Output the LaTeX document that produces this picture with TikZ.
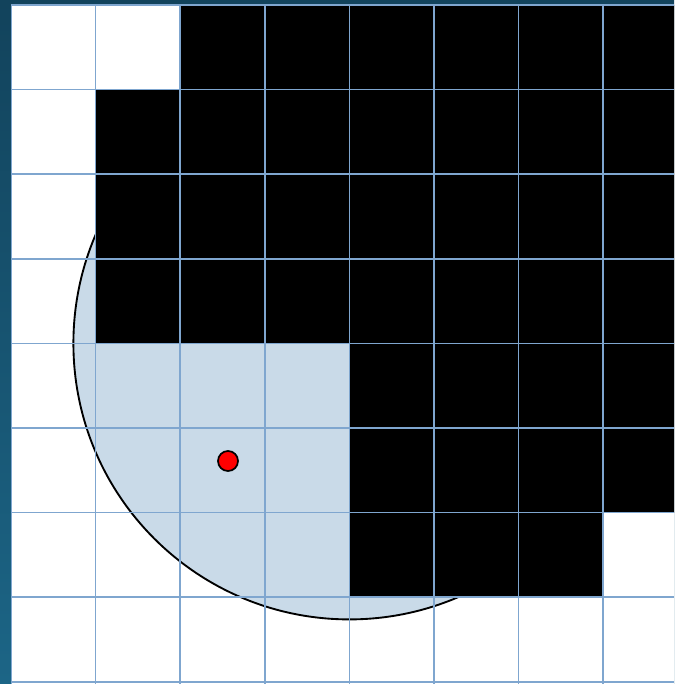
\documentclass[tikz,border=0pt]{standalone}
\usetikzlibrary{calc}
\definecolor{bordertop}{HTML}{12435C}
\definecolor{borderbot}{HTML}{1C6586}
\definecolor{gridcol}{HTML}{7FA6CF}
\definecolor{discfill}{HTML}{C9DAE8}
\tikzset{
  cellblack/.style={fill=black},
  gridline/.style={draw=gridcol,line width=1.1pt},
  disc/.style={fill=discfill,draw=black,line width=1.4pt},
  reddot/.style={circle,fill=red,draw=black,line width=1.3pt,minimum size=15pt,inner sep=0pt}
}
\begin{document}
\begin{tikzpicture}[x=0.75pt,y=-0.75pt]
\useasboundingbox (0,0) rectangle (674,684);
% border band
\shade[top color=bordertop,bottom color=borderbot] (0,0) rectangle (674,684);
\fill[white] (11,5) rectangle (674,684);
\begin{scope}
\clip (11,5) rectangle (674,684);
% disc
\draw[disc] (349.4,343.4) circle (276);
% black cells
\foreach \c in {2,...,8} {\fill[cellblack] (11+\c*84.6,5) rectangle ++(84.6,84.6);}
\foreach \r in {1,2,3} {\foreach \c in {1,...,8} {\fill[cellblack] (11+\c*84.6,5+\r*84.6) rectangle ++(84.6,84.6);}}
\foreach \r in {4,5} {\foreach \c in {4,...,8} {\fill[cellblack] (11+\c*84.6,5+\r*84.6) rectangle ++(84.6,84.6);}}
\foreach \c in {4,5,6} {\fill[cellblack] (11+\c*84.6,5+6*84.6) rectangle ++(84.6,84.6);}
% grid
\foreach \k in {0,...,8} {
  \draw[gridline] (11+\k*84.6,5) -- (11+\k*84.6,684);
  \draw[gridline] (11,5+\k*84.6) -- (674,5+\k*84.6);
}
\end{scope}
\node[reddot] (p) at (228,461) {};
\end{tikzpicture}
\end{document}
